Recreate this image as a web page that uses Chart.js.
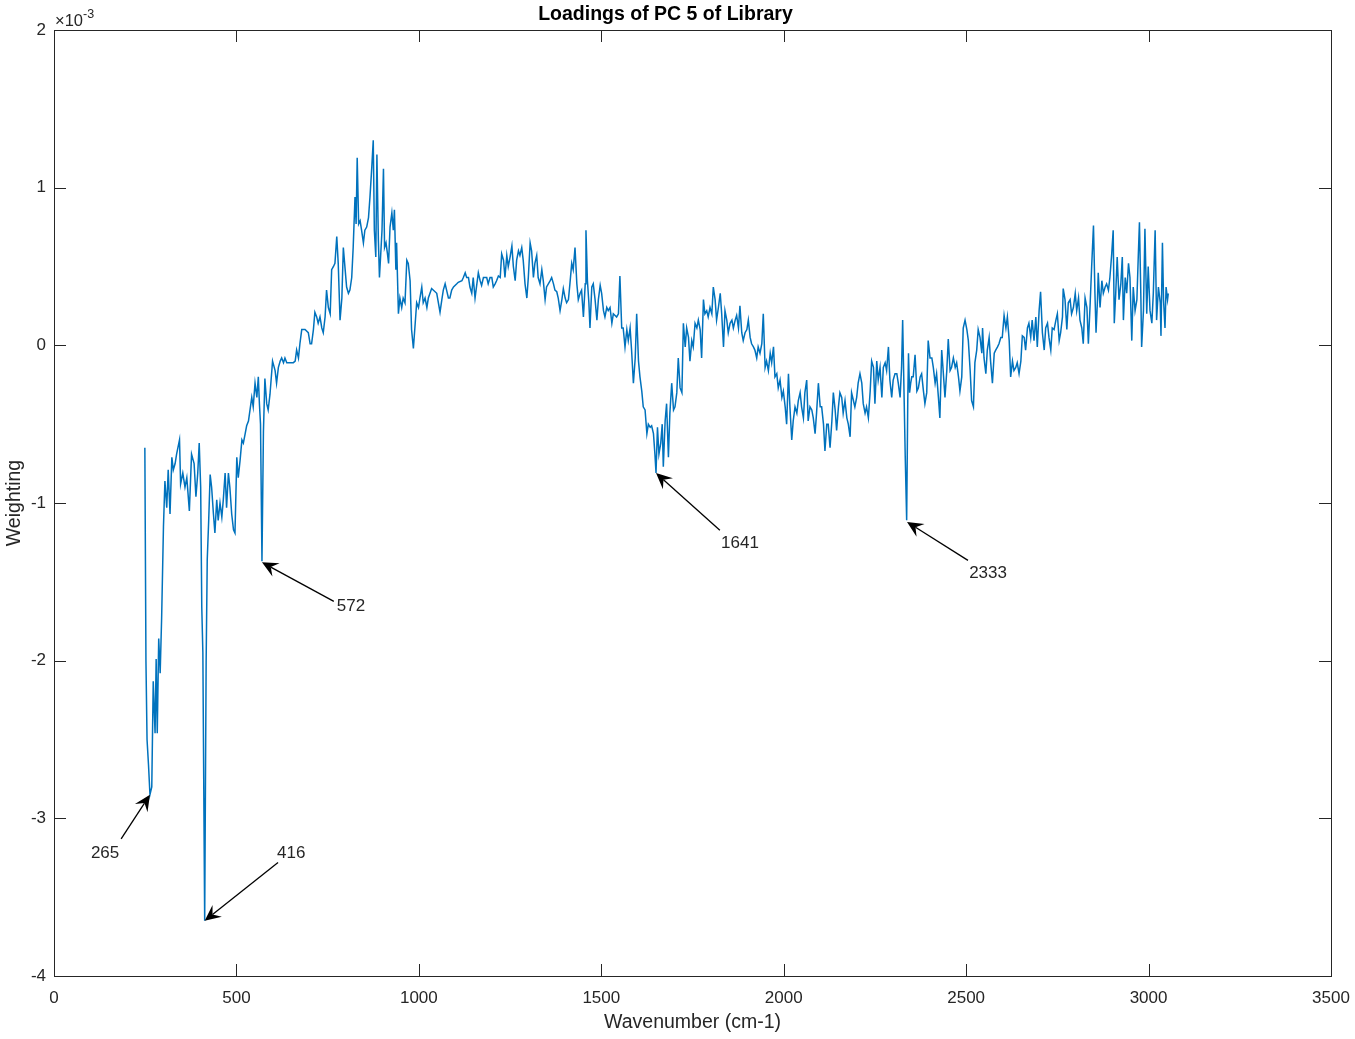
<!DOCTYPE html>
<html>
<head>
<meta charset="utf-8">
<title>Loadings of PC 5 of Library</title>
<script src="https://cdn.jsdelivr.net/npm/chart.js@4.4.1/dist/chart.umd.min.js"></script>
<style>
  html, body { margin: 0; padding: 0; background: #fff; }
</style>
</head>
<body>
<canvas id="myChart" width="1355" height="1039"></canvas>
<script>
// wavenumber (cm-1)
const wavenumber = [
  249,252,255,259,263,268,272,277,280,283,287,291,295,300,304,309,313,318,323,327,
  332,336,344,347,353,359,364,371,377,384,389,394,398,402,405,408,413,417,420,424,
  428,432,437,441,446,450,455,460,464,469,473,478,482,487,492,496,501,505,510,515,
  519,524,528,533,542,546,551,556,560,563,566,570,574,578,583,587,592,599,606,610,
  615,620,624,629,633,638,647,656,661,665,670,674,679,688,697,702,706,711,715,720,
  724,729,734,738,743,747,752,757,761,766,770,775,779,784,789,793,798,802,807,811,
  816,820,825,828,831,835,839,843,848,852,857,862,866,871,875,878,882,885,889,892,
  896,899,903,906,910,914,917,921,926,930,933,937,939,944,948,953,957,962,967,971,
  976,980,985,990,994,999,1003,1008,1012,1017,1022,1026,1035,1049,1058,1063,1067,1072,1076,1081,
  1085,1090,1095,1104,1108,1118,1122,1127,1131,1136,1140,1145,1149,1154,1159,1163,1168,1172,1177,1186,
  1190,1195,1200,1204,1209,1213,1218,1223,1227,1232,1236,1241,1245,1250,1255,1259,1264,1268,1273,1277,
  1282,1286,1291,1296,1300,1305,1309,1314,1318,1323,1327,1332,1337,1341,1346,1350,1360,1364,1369,1373,
  1378,1382,1387,1392,1396,1401,1405,1410,1414,1419,1423,1428,1433,1437,1442,1446,1451,1456,1458,1462,
  1466,1469,1474,1478,1483,1488,1492,1497,1501,1506,1510,1515,1519,1524,1529,1533,1542,1547,1551,1556,
  1560,1565,1570,1574,1579,1583,1588,1593,1597,1602,1606,1611,1615,1620,1625,1629,1634,1638,1643,1647,
  1650,1654,1658,1663,1667,1670,1675,1679,1684,1688,1693,1698,1702,1707,1711,1716,1721,1725,1730,1734,
  1739,1743,1748,1752,1757,1762,1766,1771,1775,1780,1784,1789,1793,1798,1803,1807,1812,1816,1821,1826,
  1830,1835,1839,1844,1848,1853,1858,1862,1867,1871,1876,1880,1885,1889,1894,1899,1903,1908,1912,1917,
  1921,1926,1930,1935,1940,1944,1949,1953,1958,1963,1967,1972,1976,1981,1985,1990,1995,1999,2004,2008,
  2013,2017,2022,2026,2031,2036,2040,2045,2049,2054,2058,2063,2067,2072,2077,2081,2086,2090,2095,2100,
  2104,2109,2113,2118,2122,2127,2132,2136,2141,2145,2150,2154,2159,2163,2168,2173,2177,2182,2186,2191,
  2195,2200,2204,2209,2214,2218,2223,2227,2232,2237,2241,2246,2250,2255,2259,2264,2269,2273,2278,2282,
  2287,2291,2296,2300,2305,2310,2314,2319,2323,2326,2330,2333,2337,2340,2342,2345,2348,2351,2355,2360,
  2365,2369,2374,2378,2383,2387,2392,2396,2401,2406,2410,2415,2419,2424,2428,2433,2437,2442,2447,2451,
  2456,2460,2465,2470,2474,2479,2483,2488,2492,2497,2502,2506,2511,2515,2520,2524,2529,2533,2538,2543,
  2545,2549,2554,2558,2563,2567,2572,2577,2581,2586,2590,2595,2599,2604,2609,2613,2618,2622,2627,2631,
  2636,2640,2645,2650,2654,2659,2663,2668,2672,2677,2681,2686,2691,2695,2700,2704,2709,2714,2718,2723,
  2727,2732,2736,2741,2746,2750,2755,2759,2764,2766,2771,2776,2780,2785,2789,2794,2799,2803,2808,2812,
  2817,2821,2826,2831,2835,2840,2844,2849,2853,2856,2860,2862,2867,2872,2876,2881,2885,2890,2894,2899,
  2903,2906,2910,2914,2919,2924,2928,2931,2936,2940,2945,2949,2954,2958,2963,2968,2972,2975,2979,2981,
  2986,2990,2995,2999,3004,3009,3013,3018,3022,3027,3032,3034,3038,3041,3045,3048,3052,3054
];

// weighting, in units of 1e-3
const weighting = [
  -0.65,-2.00,-2.50,-2.66,-2.85,-2.80,-2.13,-2.46,-1.99,-2.46,-1.86,-2.08,-1.73,-1.15,-0.86,-1.03,-0.79,-1.07,-0.71,-0.79,
  -0.75,-0.69,-0.60,-0.88,-0.81,-0.90,-0.84,-1.05,-0.69,-0.75,-0.96,-0.81,-0.62,-0.90,-1.66,-1.95,-3.65,-2.00,-1.36,-1.11,
  -0.82,-0.90,-1.07,-1.19,-0.98,-1.11,-1.00,-1.09,-0.98,-0.81,-1.03,-0.81,-0.90,-1.07,-1.17,-1.19,-0.71,-0.84,-0.73,-0.60,
  -0.62,-0.56,-0.51,-0.48,-0.33,-0.39,-0.24,-0.33,-0.20,-0.37,-0.50,-1.37,-0.55,-0.21,-0.37,-0.41,-0.31,-0.10,-0.16,-0.24,
  -0.14,-0.10,-0.08,-0.11,-0.08,-0.11,-0.11,-0.11,-0.10,-0.03,-0.08,0.01,0.10,0.10,0.08,0.01,0.01,0.10,0.21,0.18,
  0.14,0.18,0.11,0.08,0.18,0.35,0.24,0.20,0.48,0.50,0.52,0.69,0.52,0.16,0.30,0.62,0.48,0.37,0.33,0.35,
  0.43,0.62,0.94,0.77,1.19,0.77,0.79,0.73,0.65,0.73,0.75,0.81,0.94,1.13,1.30,0.73,0.56,1.21,0.67,0.43,
  0.60,0.73,1.12,0.62,0.65,0.58,0.52,0.75,0.84,0.73,0.86,0.48,0.65,0.20,0.30,0.24,0.30,0.27,0.54,0.52,
  0.41,0.10,-0.02,0.14,0.27,0.24,0.30,0.37,0.27,0.30,0.24,0.30,0.36,0.33,0.21,0.29,0.35,0.39,0.35,0.30,
  0.30,0.35,0.37,0.39,0.40,0.41,0.43,0.46,0.43,0.43,0.37,0.33,0.43,0.30,0.39,0.46,0.41,0.38,0.43,0.43,
  0.39,0.43,0.43,0.37,0.39,0.41,0.44,0.43,0.58,0.54,0.43,0.57,0.50,0.56,0.63,0.50,0.41,0.54,0.60,0.57,
  0.62,0.54,0.39,0.30,0.43,0.65,0.60,0.43,0.52,0.57,0.43,0.39,0.48,0.41,0.29,0.37,0.41,0.43,0.39,0.35,
  0.34,0.30,0.22,0.29,0.36,0.30,0.27,0.29,0.39,0.52,0.48,0.62,0.39,0.29,0.33,0.35,0.18,0.39,0.73,0.41,
  0.27,0.11,0.37,0.39,0.29,0.16,0.29,0.38,0.33,0.22,0.18,0.24,0.22,0.24,0.14,0.20,0.18,0.20,0.44,0.11,
  0.11,-0.01,0.10,0.03,0.11,-0.03,-0.24,-0.08,0.20,-0.10,-0.20,-0.29,-0.39,-0.41,-0.56,-0.50,-0.52,-0.51,-0.56,-0.69,
  -0.81,-0.52,-0.69,-0.62,-0.50,-0.77,-0.48,-0.37,-0.71,-0.43,-0.24,-0.41,-0.39,-0.30,-0.08,-0.27,-0.30,0.14,-0.01,0.11,
  0.05,-0.10,0.03,-0.01,0.14,0.11,0.16,0.10,-0.08,0.29,0.20,0.22,0.18,0.24,0.20,0.37,0.29,0.16,0.24,0.33,
  0.20,-0.01,0.22,0.16,0.08,0.14,0.16,0.11,0.16,0.19,0.11,0.25,0.08,0.03,0.08,0.10,0.16,0.05,0.01,-0.01,
  -0.03,-0.08,-0.01,-0.05,0.01,0.20,-0.14,-0.10,-0.16,-0.05,-0.11,-0.01,-0.20,-0.18,-0.27,-0.22,-0.33,-0.29,-0.39,-0.50,
  -0.18,-0.39,-0.60,-0.48,-0.39,-0.43,-0.35,-0.30,-0.39,-0.46,-0.30,-0.22,-0.48,-0.39,-0.41,-0.46,-0.56,-0.43,-0.24,-0.39,
  -0.39,-0.50,-0.67,-0.50,-0.50,-0.65,-0.48,-0.30,-0.41,-0.54,-0.39,-0.30,-0.33,-0.43,-0.35,-0.46,-0.50,-0.58,-0.30,-0.35,
  -0.39,-0.33,-0.24,-0.18,-0.24,-0.37,-0.43,-0.39,-0.46,-0.29,-0.10,-0.14,-0.37,-0.10,-0.22,-0.14,-0.33,-0.14,-0.11,-0.16,
  -0.01,-0.22,-0.33,-0.22,-0.18,-0.18,-0.24,-0.33,-0.14,0.16,-0.33,-0.70,-1.11,-0.35,-0.05,-0.30,-0.24,-0.20,-0.20,-0.06,
  -0.29,-0.27,-0.20,-0.18,-0.29,-0.37,-0.30,0.03,-0.08,-0.08,-0.14,-0.24,-0.18,-0.33,-0.46,-0.03,-0.16,-0.33,-0.16,0.04,
  -0.16,-0.14,-0.08,-0.14,-0.11,-0.20,-0.29,-0.20,0.11,0.16,0.10,0.03,-0.16,-0.35,-0.39,-0.11,-0.03,0.10,0.05,-0.05,
  0.11,-0.08,-0.18,-0.03,0.05,-0.10,-0.24,-0.05,-0.03,-0.01,0.01,0.05,0.05,0.19,0.11,0.18,0.03,-0.20,-0.10,-0.16,
  -0.14,-0.11,-0.18,-0.10,0.06,0.05,-0.03,0.11,0.14,0.05,0.16,0.03,0.18,-0.01,0.22,0.34,0.08,-0.03,0.11,0.14,
  0.05,-0.03,0.11,0.10,0.16,0.20,0.03,0.08,0.18,0.36,0.29,0.10,0.27,0.29,0.20,0.24,0.33,0.22,0.30,0.16,
  0.11,0.01,0.30,0.24,0.01,0.27,0.50,0.76,0.33,0.08,0.29,0.46,0.24,0.41,0.33,0.37,0.39,0.35,0.43,0.58,
  0.73,0.14,0.33,0.56,0.29,0.39,0.56,0.16,0.43,0.33,0.52,0.43,0.03,0.37,0.22,0.29,0.58,0.78,0.29,-0.01,
  0.22,0.74,0.20,0.50,0.22,0.14,0.33,0.73,0.16,0.37,0.27,0.06,0.65,0.29,0.11,0.37,0.29,0.33
];

const xTicks = [0, 500, 1000, 1500, 2000, 2500, 3000, 3500];
const yTicks = [-4, -3, -2, -1, 0, 1, 2];

// arrow annotations, in data coordinates
const notes = [
  { label: '265',  tip: [263, -2.85],  tail: [184, -3.13],  text: [140, -3.22] },
  { label: '416',  tip: [413, -3.65],  tail: [614, -3.28],  text: [650, -3.22] },
  { label: '572',  tip: [570, -1.376], tail: [767, -1.624], text: [814, -1.655] },
  { label: '1641', tip: [1650, -0.81], tail: [1825, -1.173], text: [1880, -1.256] },
  { label: '2333', tip: [2338, -1.12], tail: [2505, -1.364], text: [2560, -1.446] }
];

const axisColor = '#262626';
const fontFamily = '"Liberation Sans", Arial, Helvetica, sans-serif';
Chart.defaults.font.family = fontFamily;
Chart.defaults.color = axisColor;

const drawArrow = (ctx, x0, y0, x1, y1) => {
  const ang = Math.atan2(y1 - y0, x1 - x0);
  const len = 16, half = 7.5, back = 10;
  const ux = Math.cos(ang), uy = Math.sin(ang);
  ctx.beginPath();
  ctx.moveTo(x0, y0);
  ctx.lineTo(x1 - ux * back, y1 - uy * back);
  ctx.stroke();
  const bx = x1 - ux * len, by = y1 - uy * len;
  ctx.beginPath();
  ctx.moveTo(x1, y1);
  ctx.lineTo(bx - uy * half, by + ux * half);
  ctx.lineTo(x1 - ux * back, y1 - uy * back);
  ctx.lineTo(bx + uy * half, by - ux * half);
  ctx.closePath();
  ctx.fill();
};

const matlabAxes = {
  id: 'matlabAxes',
  afterDraw(chart) {
    const { ctx, chartArea: a, scales: { x, y } } = chart;
    const tl = 12;
    ctx.save();
    ctx.strokeStyle = axisColor;
    ctx.lineWidth = 1;
    ctx.beginPath();
    xTicks.forEach(v => {
      const px = Math.round(x.getPixelForValue(v)) + 0.5;
      ctx.moveTo(px, a.bottom); ctx.lineTo(px, a.bottom - tl);
      ctx.moveTo(px, a.top); ctx.lineTo(px, a.top + tl);
    });
    yTicks.forEach(v => {
      const py = Math.round(y.getPixelForValue(v)) + 0.5;
      ctx.moveTo(a.left, py); ctx.lineTo(a.left + tl, py);
      ctx.moveTo(a.right, py); ctx.lineTo(a.right - tl, py);
    });
    ctx.stroke();
    ctx.strokeRect(Math.round(a.left) + 0.5, Math.round(a.top) + 0.5,
      Math.round(a.right - a.left), Math.round(a.bottom - a.top));

    // exponent note
    ctx.fillStyle = axisColor;
    ctx.textBaseline = 'alphabetic';
    ctx.textAlign = 'left';
    ctx.font = '16.5px ' + fontFamily;
    ctx.fillText('\u00d710', a.left + 1, a.top - 4);
    const w = ctx.measureText('\u00d710').width;
    ctx.font = '12.5px ' + fontFamily;
    ctx.fillText('-3', a.left + 1 + w, a.top - 12);

    // arrows and labels
    ctx.strokeStyle = '#000';
    ctx.fillStyle = '#000';
    ctx.lineWidth = 1.3;
    notes.forEach(n => {
      drawArrow(ctx,
        x.getPixelForValue(n.tail[0]), y.getPixelForValue(n.tail[1]),
        x.getPixelForValue(n.tip[0]), y.getPixelForValue(n.tip[1]));
    });
    ctx.fillStyle = axisColor;
    ctx.font = '17px ' + fontFamily;
    ctx.textAlign = 'center';
    ctx.textBaseline = 'middle';
    notes.forEach(n => {
      ctx.fillText(n.label, x.getPixelForValue(n.text[0]), y.getPixelForValue(n.text[1]));
    });
    ctx.restore();
  }
};

const ctx = document.getElementById('myChart').getContext('2d');
new Chart(ctx, {
  type: 'line',
  data: {
    datasets: [{
      data: wavenumber.map((w, i) => ({ x: w, y: weighting[i] })),
      borderColor: '#0072BD',
      borderWidth: 1.5,
      pointRadius: 0,
      tension: 0,
      fill: false
    }]
  },
  options: {
    responsive: false,
    maintainAspectRatio: false,
    animation: false,
    layout: { padding: { left: 0, right: 24, top: 0, bottom: 0 } },
    plugins: {
      legend: { display: false },
      tooltip: { enabled: false },
      title: {
        display: true,
        text: 'Loadings of PC 5 of Library',
        color: '#000',
        font: { size: 19.5, weight: 'bold' },
        padding: { top: 3, bottom: 3.6 }
      }
    },
    scales: {
      x: {
        type: 'linear',
        min: 0,
        max: 3500,
        afterBuildTicks: s => { s.ticks = xTicks.map(v => ({ value: v })); },
        afterFit: s => { s.height = 63; s.paddingLeft = 0; s.paddingRight = 0; },
        grid: { display: false, drawTicks: false },
        border: { display: false },
        ticks: {
          padding: 12,
          color: axisColor,
          font: { size: 17 },
          maxRotation: 0,
          callback: v => String(v)
        },
        title: {
          display: true,
          text: 'Wavenumber (cm-1)',
          color: axisColor,
          font: { size: 19.5 },
          padding: { top: 5, bottom: 5 }
        }
      },
      y: {
        type: 'linear',
        min: -4,
        max: 2,
        afterBuildTicks: s => { s.ticks = yTicks.map(v => ({ value: v })); },
        afterFit: s => { s.width = 54; s.paddingTop = 0; s.paddingBottom = 0; },
        grid: { display: false, drawTicks: false },
        border: { display: false },
        ticks: {
          padding: 8,
          color: axisColor,
          font: { size: 17 },
          callback: v => String(v)
        },
        title: {
          display: true,
          text: 'Weighting',
          color: axisColor,
          font: { size: 19.5 },
          padding: { top: 3, bottom: 3 }
        }
      }
    }
  },
  plugins: [matlabAxes]
});
</script>
</body>
</html>
